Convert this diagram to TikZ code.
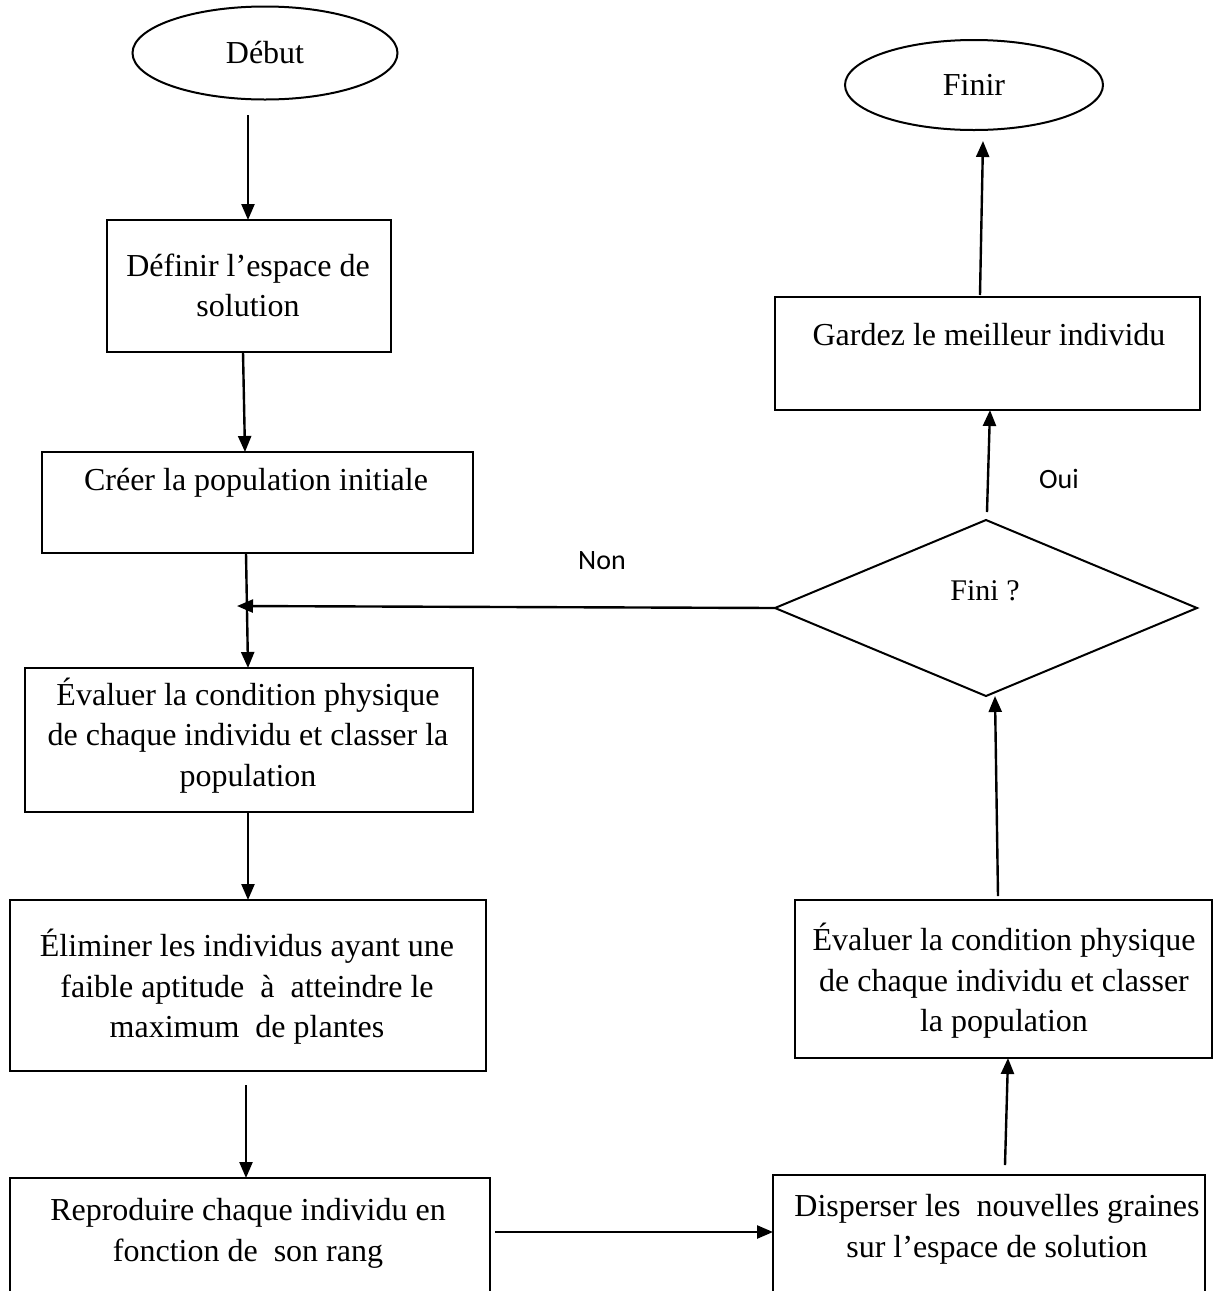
\documentclass[tikz,border=0pt]{standalone}
\usepackage{fontspec}
\setmainfont{Liberation Serif}
\newfontfamily\labelfont{Carlito}
\usetikzlibrary{shapes.geometric,arrows.meta}

\begin{document}
\begin{tikzpicture}[x=0.5pt,y=-0.5pt,
  every node/.style={inner sep=0pt, outer sep=0pt},
  box/.style={draw, line width=1pt, rectangle, anchor=north west},
  txt/.style={font=\fontsize{16}{20.3}\selectfont, align=center},
  term/.style={draw, ellipse, line width=1pt, font=\fontsize{16}{20.3}\selectfont},
  flow/.style={-{Triangle[length=8pt,width=6.5pt]}, line width=1.2pt},
  answer/.style={font=\labelfont\fontsize{14}{16}\selectfont}]

\useasboundingbox (0,0) rectangle (1218,1291);
\clip (0,0) rectangle (1218,1291);

% terminals
\node[term, minimum width=132.5pt, minimum height=46.5pt] (debut) at (265,53) {Début};
\node[term, minimum width=129pt, minimum height=45pt] (finir) at (974,85) {Finir};

% left column
\node[box, minimum width=142pt, minimum height=66pt] (def) at (107,220) {};
\node[txt] (tdef) at (248,285.5) {Définir l’espace de\\solution};

\node[box, minimum width=215.5pt, minimum height=50.5pt] (cree) at (42,452) {};
\node[txt] (tcree) at (256,483) {Créer la population initiale};

\node[box, minimum width=224pt, minimum height=72pt] (evalA) at (25,668) {};
\node[txt] (tevalA) at (248,735.5) {Évaluer la condition physique\\de chaque individu et classer la\\population};

\node[box, minimum width=238pt, minimum height=85.5pt] (elim) at (10,900) {};
\node[txt] (telim) at (247,987) {Éliminer les individus ayant une\\faible aptitude\ \ à\ \ atteindre le\\maximum\ \ de plantes};

\node[box, minimum width=240pt, minimum height=70pt] (repro) at (10,1178) {};
\node[txt] (trepro) at (248,1233.5) {Reproduire chaque individu en\\fonction de\ \ son rang};

% right column
\node[box, minimum width=216pt, minimum height=70pt] (disp) at (773,1175) {};
\node[txt] (tdisp) at (997,1229) {Disperser les\ \ nouvelles graines\\sur l’espace de solution};

\node[box, minimum width=208.5pt, minimum height=79pt] (evalB) at (795,900) {};
\node[txt] (tevalB) at (1004,981) {Évaluer la condition physique\\de chaque individu et classer\\la population};

\node[draw, diamond, line width=1pt, minimum width=211pt, minimum height=88pt] (fini) at (986,608) {};
\node[txt, font=\fontsize{15}{18}\selectfont] (tfini) at (985,591) {Fini ?};

\node[box, minimum width=212.5pt, minimum height=56.5pt] (garde) at (775,297) {};
\node[txt] (tgarde) at (989,335) {Gardez le meilleur individu};

% answer labels
\node[answer] (non) at (602,561) {Non};
\node[answer] (oui) at (1059,479) {Oui};

% connector end points
\coordinate (s1) at (248,115);
\coordinate (s2) at (243,352);
\coordinate (s3) at (246,553);
\coordinate (merge) at (237,606);
\coordinate (s4) at (248,812);
\coordinate (s5) at (246,1085);
\coordinate (s6) at (495,1232);
\coordinate (s7) at (1005,1165);
\coordinate (s8) at (998,896);
\coordinate (s9) at (987,512);
\coordinate (s10) at (980,295);
\coordinate (e10) at (983,141);

% connectors
\draw[flow] (s1) -- (s1 |- def.north);
\draw[flow] (s2) -- ([xshift=1pt]s2 |- cree.north);
\draw[flow] (s3) -- ([xshift=1pt]s3 |- evalA.north);
\draw[flow] (fini.west) -- (merge);
\draw[flow] (s4) -- (s4 |- elim.north);
\draw[flow] (s5) -- (s5 |- repro.north);
\draw[flow] (s6) -- (s6 -| disp.west);
\draw[flow] (s7) -- ([xshift=1.5pt]s7 |- evalB.south);
\draw[flow] (s8) -- ([xshift=-1.5pt]s8 |- fini.south);
\draw[flow] (s9) -- ([xshift=1.5pt]s9 |- garde.south);
\draw[flow] (s10) -- (e10);
\end{tikzpicture}
\end{document}
